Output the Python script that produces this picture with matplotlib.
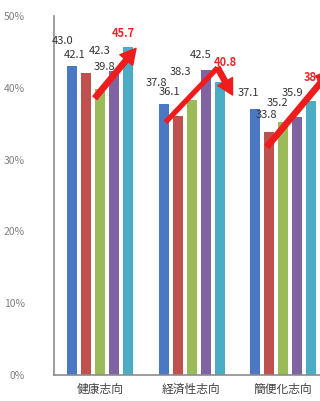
import numpy as np
import matplotlib
matplotlib.use("Agg")
import matplotlib.pyplot as plt

plt.rcParams['font.family'] = ['Noto Sans CJK JP', 'DejaVu Sans']

# data
categories = ["健康志向", "経済性志向", "簡便化志向"]
series_colors = ["#4A78C2", "#C0504D", "#9BBB59", "#8064A2", "#4BACC6"]
s1 = [43.0, 37.8, 37.1]
s2 = [42.1, 36.1, 33.8]
s3 = [39.8, 38.3, 35.2]
s4 = [42.3, 42.5, 35.9]
s5 = [45.7, 40.8, 38.2]
series = [s1, s2, s3, s4, s5]

# label offsets in pixels (dx, up) for each group / series
label_off = [
    [(-9, 25), (-11, 18), (4, 22), (-14, 20), (-5, 13)],
    [(-7, 21), (-8, 24), (-11, 28), (-5, 15), (6, 20)],
    [(-7, 16), (-3, 17), (-6, 19), (-5, 24), (4, 23)],
]

# trend arrows: (bar slot, value) points per group
arrows = [
    [(1.64, 38.6), (4.57, 45.5)],
    [(0.14, 35.2), (3.86, 42.8), (4.93, 39.0)],
    [(0.86, 31.8), (5.45, 42.5)],
]

W, H = 320, 401
fig = plt.figure(figsize=(W / 100, H / 100), dpi=100)
ax = fig.add_axes([54 / W, 26 / H, (W - 54) / W, 359 / H])

pitch = 14 / 91.5
width = 10 / 91.5
x = np.arange(len(categories))
for i, vals in enumerate(series):
    ax.bar(x + (i - 2) * pitch, vals, width=width, color=series_colors[i], zorder=2)

px = 0.72  # points per pixel
for g in range(len(categories)):
    for i, vals in enumerate(series):
        dx, up = label_off[g][i]
        last = i == len(series) - 1
        ax.annotate(f"{vals[g]:.1f}", (x[g] + (i - 2) * pitch, vals[g]),
                    xytext=(dx * px, up * px), textcoords="offset points",
                    ha="center", va="center", fontsize=8,
                    color="#E8262A" if last else "#333333",
                    fontweight="bold" if last else "normal", zorder=4)

red = "#EE1C1C"
for g, pts in enumerate(arrows):
    xs = [x[g] + (s - 2) * pitch for s, _ in pts]
    ys = [v for _, v in pts]
    if len(pts) > 2:
        ax.plot(xs[:-1], ys[:-1], color=red, lw=3.8, solid_capstyle="butt", zorder=5)
    ax.annotate("", xy=(xs[-1], ys[-1]), xytext=(xs[-2], ys[-2]),
                arrowprops=dict(width=3.8, headwidth=12, headlength=11,
                                color=red, shrink=0),
                annotation_clip=False, zorder=5)

ax.set_xlim(-0.503, 2.404)
ax.set_ylim(0, 50)
ax.set_yticks(np.arange(0, 51, 10))
ax.set_yticklabels([f"{v}%" for v in range(0, 51, 10)])
ax.set_xticks(x)
ax.set_xticklabels(categories, fontsize=8.5, color="#404040")
ax.tick_params(axis="y", length=0, pad=21, labelsize=7.5, labelcolor="#808080")
ax.tick_params(axis="x", length=0, pad=6)
for side in ["top", "right"]:
    ax.spines[side].set_visible(False)
for side in ["left", "bottom"]:
    ax.spines[side].set_color("#8C8C8C")
    ax.spines[side].set_linewidth(1.2)

fig.savefig("out.png", dpi=100)
